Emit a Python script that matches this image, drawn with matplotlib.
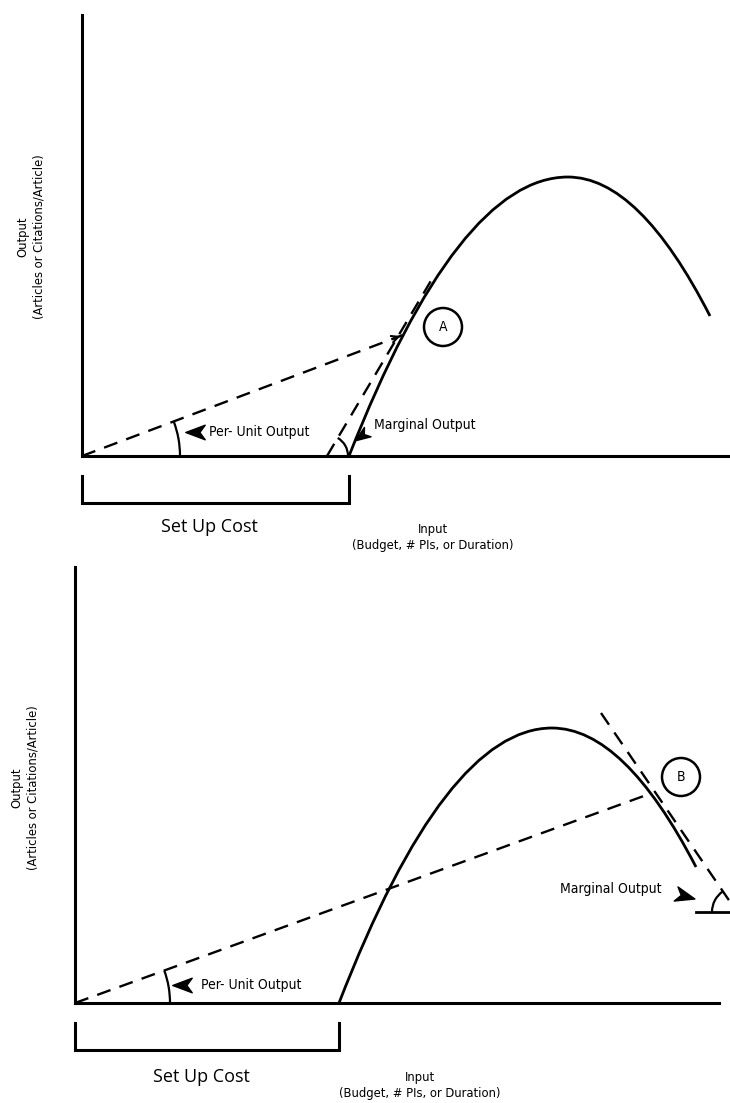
import matplotlib.pyplot as plt
from matplotlib import font_manager
from matplotlib.markers import MarkerStyle
from matplotlib.patches import Arc, Circle, PathPatch
from matplotlib.path import Path
from matplotlib.transforms import Affine2D
import numpy as np

# units: one unit = 10 px of the 730x1103 picture, origin at the axes corner
# top panel (case A: operating on the rising side)
a_setup = 26.7
a_peak = (48.6, 27.9)
a_end = (62.8, 14.0)
a_point = (32.1, 12.1)
a_tangent = [(24.5, 0.0), (35.3, 18.2)]
a_xmax, a_ymax, a_xaxis = 64.8, 44.1, 64.8

# bottom panel (case B: operating past the peak)
b_setup = 26.4
b_peak = (47.7, 27.5)
b_end = (62.1, 13.6)
b_point = (57.7, 21.0)
b_tangent = [(52.6, 29.0), (66.2, 9.1)]
b_xmax, b_ymax, b_xaxis = 65.5, 43.6, 64.4

y_label = "Output\n(Articles or Citations/Article)"
x_label = "Input\n(Budget, # PIs, or Duration)"

W, H = 730, 1103


def narrow_font():
    # look for any condensed / narrow regular face; otherwise a slim sans at a smaller size
    for f in font_manager.fontManager.ttflist:
        n = f.fname.lower()
        if ("narrow" in n or "condensed" in n) and "bold" not in n and "italic" not in n \
                and "oblique" not in n and "light" not in n and f.name != "DejaVu Sans Mono":
            return dict(fontproperties=font_manager.FontProperties(fname=f.fname)), 1.0
    return dict(family=["Lato", "DejaVu Sans"]), 0.82


NARROW, SCALE = narrow_font()


def ntext(ax, x, y, s, size, **kw):
    t = ax.text(x, y, s, **NARROW, **kw)
    t.set_fontsize(size * SCALE)
    return t


def stealth(angle):
    verts = [(1, 0), (-1, 0.75), (-0.45, 0), (-1, -0.75), (1, 0)]
    codes = [Path.MOVETO, Path.LINETO, Path.LINETO, Path.LINETO, Path.CLOSEPOLY]
    return MarkerStyle(Path(verts, codes), transform=Affine2D().rotate_deg(angle))


def curve(ax, setup, peak, end):
    # two quadratic bezier halves: rise from the set-up cost to the peak, fall to the end
    (px, py), (ex, ey) = peak, end
    verts = [(setup, 0), ((setup + px) / 2, py), (px, py),
             ((px + ex) / 2, py), (ex, ey)]
    codes = [Path.MOVETO, Path.CURVE3, Path.CURVE3, Path.CURVE3, Path.CURVE3]
    ax.add_patch(PathPatch(Path(verts, codes), fill=False, lw=2.0, color="black"))


def panel(rect_px, xmax, ymax, xaxis_end, setup):
    left, top, right, bottom = rect_px
    ax = plt.gcf().add_axes([left / W, 1 - bottom / H, (right - left) / W, (bottom - top) / H])
    ax.set_xlim(0, xmax)
    ax.set_ylim(-(bottom - top) / 10 + ymax, ymax)
    ax.set_aspect("equal")
    for s in ["top", "right"]:
        ax.spines[s].set_visible(False)
    ax.spines["bottom"].set_position(("data", 0))
    ax.spines["bottom"].set_bounds(0, xaxis_end)
    ax.spines["left"].set_bounds(0, ymax)
    for s in ["bottom", "left"]:
        ax.spines[s].set_linewidth(2.2)
    ax.set_xticks([])
    ax.set_yticks([])
    # set-up cost bracket under the axis
    ax.plot([0, 0, setup, setup], [-2.0, -4.7, -4.7, -2.0], color="black", lw=2.2,
            clip_on=False, solid_joinstyle="miter")
    return ax


fig = plt.figure(figsize=(W / 100, H / 100), dpi=100)
dash = dict(color="black", lw=1.7, dashes=(6, 4))

# ---------------- top panel ----------------
ax = panel((82, 15, 730, 557), a_xmax, a_ymax, a_xaxis, a_setup)
curve(ax, a_setup, a_peak, a_end)
ax.plot([0, a_point[0]], [0, a_point[1]], **dash)
ang = np.degrees(np.arctan2(a_point[1], a_point[0]))
ax.annotate("", xy=a_point, xytext=(a_point[0] - 1.2, a_point[1] - 1.2 * a_point[1] / a_point[0]),
            arrowprops=dict(arrowstyle="->", lw=1.5, color="black", mutation_scale=12))
ax.plot(*zip(*a_tangent), **dash)
ax.add_patch(Arc((0, 0), 19.6, 19.6, theta1=0, theta2=ang, lw=1.6))
t0, t1 = a_tangent
tang = np.degrees(np.arctan2(t1[1] - t0[1], t1[0] - t0[0]))
ax.add_patch(Arc(t0, 4.2, 4.2, theta1=0, theta2=tang, lw=1.6))
ax.add_patch(Circle((36.1, 12.9), 1.9, fill=False, lw=1.8))
ntext(ax, 36.1, 12.9, "A", 10, ha="center", va="center")
ax.plot(11.3, 2.4, marker=stealth(180), ms=14, color="black", clip_on=False)
ntext(ax, 12.7, 2.4, "Per- Unit Output", 10, ha="left", va="center")
ax.plot(27.9, 2.0, marker=stealth(215), ms=11, color="black")
ntext(ax, 29.2, 3.1, "Marginal Output", 10, ha="left", va="center")
ax.text(12.7, -7.1, "Set Up Cost", ha="center", va="center", fontsize=13, family=["Open Sans"])
ntext(ax, 35.1, -8.2, x_label, 9.3, ha="center", va="center", linespacing=1.3)
ntext(ax, -5.1, 21.9, y_label, 9.3, ha="center", va="center", rotation=90, linespacing=1.3)

# ---------------- bottom panel ----------------
ax = panel((75, 567, 730, 1103), b_xmax, b_ymax, b_xaxis, b_setup)
curve(ax, b_setup, b_peak, b_end)
ax.plot([0, b_point[0]], [0, b_point[1]], **dash)
ang = np.degrees(np.arctan2(b_point[1], b_point[0]))
ax.add_patch(Arc((0, 0), 19.0, 19.0, theta1=0, theta2=ang, lw=1.6))
ax.plot(*zip(*b_tangent), **dash)
t0, t1 = b_tangent
ax.plot([b_end[0], t1[0]], [t1[1], t1[1]], color="black", lw=2.0)
tang = np.degrees(np.arctan2(t0[1] - t1[1], t0[0] - t1[0]))
ax.add_patch(Arc(t1, 5.0, 5.0, theta1=tang, theta2=180, lw=1.6))
ax.add_patch(Circle((60.6, 22.6), 1.9, fill=False, lw=1.8))
ntext(ax, 60.6, 22.6, "B", 10, ha="center", va="center")
ax.plot(10.7, 1.8, marker=stealth(180), ms=14, color="black")
ntext(ax, 12.6, 1.8, "Per- Unit Output", 10, ha="left", va="center")
ax.plot(61.0, 10.7, marker=stealth(-15), ms=14, color="black")
ntext(ax, 58.7, 11.4, "Marginal Output", 10, ha="right", va="center")
ax.text(12.6, -7.4, "Set Up Cost", ha="center", va="center", fontsize=13, family=["Open Sans"])
ntext(ax, 34.5, -8.3, x_label, 9.3, ha="center", va="center", linespacing=1.3)
ntext(ax, -5.0, 21.5, y_label, 9.3, ha="center", va="center", rotation=90, linespacing=1.3)

fig.savefig("out.png", dpi=100)
